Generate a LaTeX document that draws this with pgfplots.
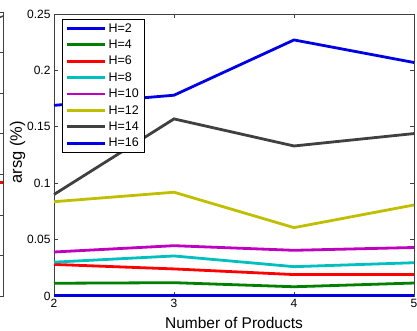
\documentclass[border=0pt]{standalone}
\usepackage{pgfplots}
\pgfplotsset{compat=1.18}
\usepackage{fontspec}
\setmainfont{Liberation Sans}
\definecolor{mblue}{rgb}{0,0,0.9}
\definecolor{mgreen}{rgb}{0,0.5,0}
\definecolor{mred}{rgb}{1,0,0}
\definecolor{mcyan}{rgb}{0,0.75,0.75}
\definecolor{mmag}{rgb}{0.75,0,0.75}
\definecolor{myel}{rgb}{0.75,0.75,0}
\definecolor{mgray}{rgb}{0.25,0.25,0.25}
\begin{document}
\begin{tikzpicture}
\path[use as bounding box] (-54pt,-35pt) rectangle (363pt,296pt);
\begin{axis}[
  at={(0pt,0pt)}, anchor=south west,
  scale only axis, width=360pt, height=282pt,
  xmin=2, xmax=5, ymin=0, ymax=0.25,
  xtick={2,3,4,5},
  ytick={0,0.05,0.1,0.15,0.2,0.25},
  yticklabels={0,0.05,0.1,0.15,0.2,0.25},
  xtick pos=both, ytick pos=both,
  tick align=inside, major tick length=4pt,
  axis line style={black!75, line width=0.6pt},
  every tick/.style={black!75, line width=0.6pt},
  tick label style={font=\fontsize{12}{14}\selectfont},
  /pgf/number format/assume math mode=true,
  xlabel={Number of Products},
  ylabel={arsg (\%)},
  xlabel style={font=\fontsize{15.5}{18}\selectfont, at={(0.5,0)}, anchor=base, yshift=-33pt},
  ylabel style={font=\fontsize{16.5}{19}\selectfont, anchor=base},
  every axis y label/.append style={at={(-32pt,0.51)}},
  clip=false,
  legend cell align=left,
  legend style={at={(8pt,277pt)}, anchor=north west, draw=black, line width=0.6pt,
    font=\fontsize{12.5}{14}\selectfont, row sep=2.2pt, inner xsep=3pt, inner ysep=2pt,
    nodes={inner xsep=2.5pt, inner ysep=2pt}},
  legend image code/.code={\draw[#1] (0pt,0pt) -- (38pt,0pt);},
  every axis plot/.append style={line width=2.8pt},
]
\addplot[mblue] coordinates {(2,0.0003) (3,0.0003) (4,0.0003) (5,0.0003)};
\addlegendentry{H=2}
\addplot[mgreen] coordinates {(2,0.0113) (3,0.0118) (4,0.0082) (5,0.0115)};
\addlegendentry{H=4}
\addplot[mred] coordinates {(2,0.028) (3,0.024) (4,0.019) (5,0.019)};
\addlegendentry{H=6}
\addplot[mcyan] coordinates {(2,0.030) (3,0.0355) (4,0.026) (5,0.0295)};
\addlegendentry{H=8}
\addplot[mmag] coordinates {(2,0.039) (3,0.0446) (4,0.0405) (5,0.043)};
\addlegendentry{H=10}
\addplot[myel] coordinates {(2,0.0836) (3,0.092) (4,0.0606) (5,0.0807)};
\addlegendentry{H=12}
\addplot[mgray] coordinates {(2,0.090) (3,0.157) (4,0.133) (5,0.144)};
\addlegendentry{H=14}
\addplot[mblue] coordinates {(2,0.169) (3,0.178) (4,0.227) (5,0.207)};
\addlegendentry{H=16}
\end{axis}
% fragment of neighbouring panel
\begin{axis}[
  at={(-51pt,0pt)}, anchor=south east,
  scale only axis, width=200pt, height=284pt,
  xmin=0, xmax=10, ymin=0, ymax=7,
  ytick={0,1,2,3,4,5,6,7}, xtick=\empty,
  yticklabels={}, ytick pos=both,
  tick align=inside, major tick length=4pt,
  axis line style={black!75, line width=0.6pt},
  every tick/.style={black!75, line width=0.6pt},
  clip=true,
]
\addplot[mred, line width=2.8pt] coordinates {(9,2.8) (10,2.8)};
\addplot[mgray, line width=1.5pt] coordinates {(9,6.7) (10,6.9)};
\end{axis}
\end{tikzpicture}
\end{document}
